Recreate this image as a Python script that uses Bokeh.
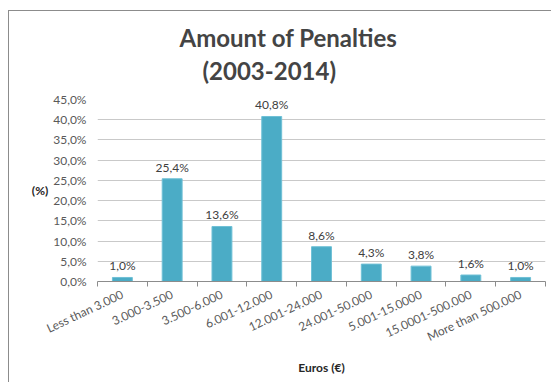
import numpy as np
from bokeh.plotting import figure
from bokeh.models import ColumnDataSource, Range1d, FixedTicker, Title
from bokeh.core.properties import value
from bokeh.embed import file_html
from bokeh.resources import INLINE

categories = ["Less than 3.000", "3.000-3.500", "3.500-6.000", "6.001-12.000",
              "12.001-24.000", "24.001-50.000", "5.001-15.0000", "15.0001-500.000",
              "More than 500.000"]
percent = [1.0, 25.4, 13.6, 40.8, 8.6, 4.3, 3.8, 1.6, 1.0]
value_labels = ["1,0%", "25,4%", "13,6%", "40,8%", "8,6%", "4,3%", "3,8%", "1,6%", "1,0%"]
y_ticks = [0, 5, 10, 15, 20, 25, 30, 35, 40, 45]
y_tick_labels = ["0,0%", "5,0%", "10,0%", "15,0%", "20,0%", "25,0%", "30,0%",
                 "35,0%", "40,0%", "45,0%"]

FONT = "Lato"
n = len(categories)
centers = (np.arange(n) + 0.5).tolist()
bounds = np.arange(n + 1).tolist()

src = ColumnDataSource(dict(x=centers, top=percent, lab=value_labels))

p = figure(width=543, height=372, output_backend="svg", toolbar_location=None,
           x_range=Range1d(0, n), y_range=Range1d(0, 45),
           min_border_left=88, min_border_right=7, min_border_top=88,
           min_border_bottom=102, background_fill_color="white",
           border_fill_color="white")
p.outline_line_color = None
p.styles = {"margin-left": "8px", "margin-top": "10px",
            "border-left": "1px solid #8c8c8c", "border-top": "1px solid #8c8c8c"}

p.vbar(x="x", top="top", width=0.4, source=src, fill_color="#4bacc6",
       line_color="#6fc0d6", line_width=1)
p.text(x="x", y="top", text="lab", source=src, text_align="center",
       text_baseline="bottom", y_offset=-4, text_font=value(FONT),
       text_font_size="12px", text_color="#404040")

p.xgrid.visible = False
p.ygrid.grid_line_color = "#c9c9c9"
p.ygrid.ticker = FixedTicker(ticks=y_ticks)

ya = p.yaxis[0]
ya.ticker = FixedTicker(ticks=y_ticks)
ya.major_label_overrides = {t: l for t, l in zip(y_ticks, y_tick_labels)}
ya.axis_line_color = None
ya.major_tick_line_color = None
ya.major_tick_out = 0
ya.major_tick_in = 0
ya.minor_tick_line_color = None
ya.minor_tick_out = 0
ya.major_label_standoff = 11
ya.major_label_text_font = FONT
ya.major_label_text_font_size = "12px"
ya.major_label_text_color = "#595959"
ya.axis_label = "(%)"
ya.axis_label_text_font = FONT
ya.axis_label_text_font_size = "12px"
ya.axis_label_text_font_style = "bold"
ya.axis_label_text_color = "#262626"
ya.axis_label_standoff = 2
try:
    ya.axis_label_orientation = "horizontal"
except Exception:
    pass

xa = p.xaxis[0]
xa.ticker = FixedTicker(ticks=centers, minor_ticks=bounds)
xa.major_label_overrides = {c: l for c, l in zip(centers, categories)}
xa.axis_line_color = "#8c8c8c"
xa.major_tick_line_color = None
xa.major_tick_out = 0
xa.major_tick_in = 0
xa.minor_tick_line_color = "#8c8c8c"
xa.minor_tick_out = 5
xa.minor_tick_in = 0
xa.major_label_orientation = 0.44
xa.major_label_standoff = 7
xa.major_label_text_font = FONT
xa.major_label_text_font_size = "12px"
xa.major_label_text_color = "#595959"
xa.axis_label = "Euros (€)"
xa.axis_label_text_font = FONT
xa.axis_label_text_font_size = "12px"
xa.axis_label_text_font_style = "bold"
xa.axis_label_text_color = "#262626"
xa.axis_label_standoff = 6

spacer = Title(text=" ", standoff=6, text_font_size="1px")
t2 = Title(text="(2003-2014)", align="left", offset=105, standoff=12,
           text_font=FONT, text_font_size="24px", text_font_style="bold")
t1 = Title(text="Amount of Penalties", align="left", offset=82, standoff=0,
           text_font=FONT, text_font_size="24px", text_font_style="bold")
try:
    t1.standoff = -8
except Exception:
    t1.standoff = 0
p.add_layout(spacer, "above")
p.add_layout(t2, "above")
p.add_layout(t1, "above")

open("out.html", "w").write(file_html(p, INLINE))
